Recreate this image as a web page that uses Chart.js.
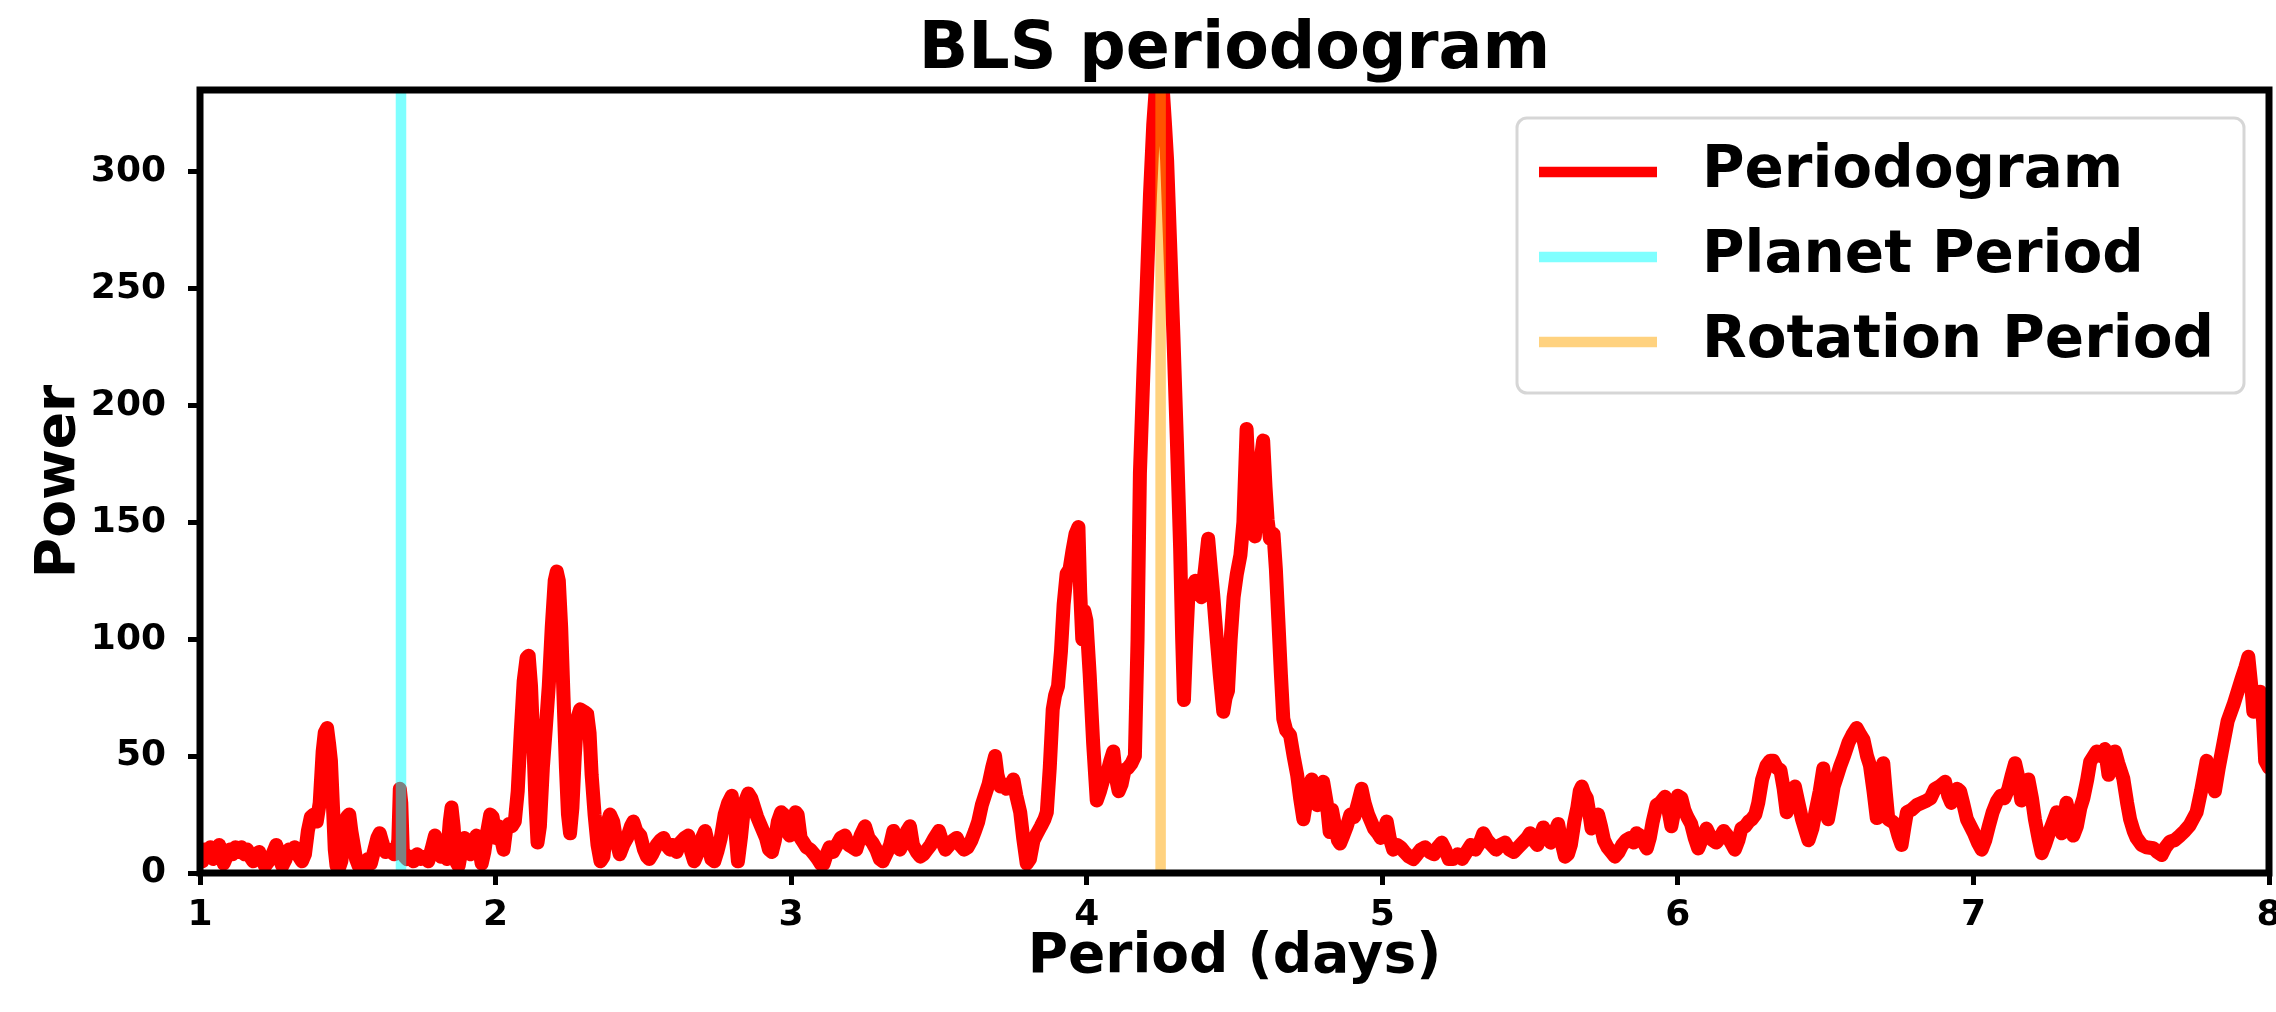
<!DOCTYPE html>
<html>
<head>
<meta charset="utf-8">
<title>BLS periodogram</title>
<script src="https://cdn.jsdelivr.net/npm/chart.js@4.4.1/dist/chart.umd.min.js"></script>
<style>
  html, body { margin: 0; padding: 0; background: #ffffff; }
  #wrap { width: 2276px; height: 1012px; }
</style>
</head>
<body>
<div id="wrap"><canvas id="bls" width="2276" height="1012"></canvas></div>
<script>
// Trial periods (days) and BLS power at each period
const periodDays = [
  1.000, 1.008, 1.015, 1.025, 1.035, 1.045, 1.055, 1.065, 1.072, 1.080, 1.090, 1.100, 1.110, 1.120, 1.130, 1.140, 1.150, 1.160,
  1.170, 1.180, 1.190, 1.200, 1.210, 1.220, 1.232, 1.245, 1.258, 1.268, 1.278, 1.290, 1.300, 1.310, 1.320, 1.330, 1.345, 1.355,
  1.365, 1.375, 1.385, 1.395, 1.405, 1.415, 1.422, 1.430, 1.437, 1.443, 1.450, 1.456, 1.462, 1.470, 1.478, 1.488, 1.497, 1.505,
  1.512, 1.520, 1.528, 1.537, 1.547, 1.558, 1.568, 1.578, 1.590, 1.600, 1.608, 1.617, 1.627, 1.637, 1.647, 1.657, 1.665, 1.671,
  1.676, 1.681, 1.686, 1.692,
  1.700, 1.712, 1.722, 1.735, 1.748, 1.760, 1.772, 1.785, 1.795, 1.805, 1.815, 1.825, 1.835, 1.845, 1.851, 1.858, 1.866, 1.875,
  1.885, 1.895, 1.905, 1.915, 1.925, 1.935, 1.945, 1.953, 1.962, 1.972, 1.982, 1.990, 2.000, 2.010, 2.020, 2.027, 2.035, 2.045,
  2.055, 2.065,
  2.075, 2.085, 2.095, 2.105, 2.112, 2.120, 2.128, 2.135, 2.142, 2.150, 2.160, 2.170, 2.180, 2.190, 2.200, 2.207, 2.214, 2.222,
  2.230, 2.238, 2.245, 2.252, 2.260, 2.268, 2.276, 2.286, 2.300, 2.310, 2.318, 2.325, 2.335, 2.345, 2.355,
  2.365, 2.375, 2.387, 2.398, 2.408, 2.420, 2.432, 2.445, 2.458, 2.466, 2.476, 2.490, 2.502, 2.512, 2.520, 2.530, 2.545, 2.558,
  2.568, 2.578, 2.590, 2.600, 2.612, 2.625, 2.640, 2.652, 2.662, 2.672, 2.682, 2.695, 2.709, 2.720, 2.730, 2.740, 2.750, 2.762,
  2.775, 2.787, 2.799, 2.810, 2.820, 2.830, 2.842, 2.855, 2.865, 2.875, 2.885, 2.895, 2.905, 2.915, 2.925, 2.935, 2.945, 2.955,
  2.966, 2.975, 2.985, 2.995, 3.005, 3.015, 3.022, 3.032, 3.042, 3.052, 3.065, 3.078, 3.090, 3.100, 3.110, 3.120, 3.130, 3.142,
  3.155, 3.168, 3.182, 3.195, 3.208, 3.220, 3.235, 3.250, 3.262, 3.275, 3.288, 3.300, 3.310, 3.325, 3.335, 3.346, 3.358,
  3.368, 3.380, 3.392, 3.402, 3.412, 3.425, 3.437, 3.448, 3.460, 3.472, 3.485, 3.500, 3.512, 3.522, 3.535, 3.548, 3.560, 3.572,
  3.585, 3.597, 3.610, 3.622, 3.633, 3.645, 3.655, 3.668, 3.680, 3.690, 3.698, 3.708, 3.718, 3.728, 3.740, 3.752, 3.762, 3.775,
  3.785, 3.797, 3.808, 3.820, 3.832, 3.845, 3.857, 3.865, 3.875, 3.885, 3.893, 3.903, 3.913, 3.922, 3.932, 3.942, 3.952, 3.962,
  3.972, 3.978, 3.985, 3.992, 3.999, 4.010, 4.022, 4.034, 4.045, 4.056, 4.068, 4.080, 4.090, 4.100, 4.108, 4.118, 4.128, 4.140,
  4.152, 4.163, 4.172, 4.180, 4.192, 4.203, 4.214, 4.225, 4.235, 4.245, 4.255, 4.265, 4.272, 4.282, 4.293, 4.305, 4.316, 4.323,
  4.329, 4.337, 4.344, 4.355, 4.367, 4.378, 4.388, 4.400, 4.411, 4.420, 4.428, 4.440, 4.450, 4.462, 4.470, 4.478, 4.487, 4.497,
  4.508, 4.520, 4.530, 4.541, 4.548, 4.555, 4.562, 4.569, 4.578, 4.587, 4.597, 4.605, 4.612, 4.620, 4.632, 4.640, 4.648, 4.657,
  4.665, 4.675, 4.688, 4.700, 4.712, 4.722, 4.733, 4.742, 4.752, 4.761, 4.770, 4.780, 4.790, 4.800, 4.812, 4.822, 4.830, 4.840,
  4.850, 4.857, 4.868, 4.880, 4.892, 4.905, 4.918, 4.930, 4.940, 4.952, 4.962, 4.972, 4.985, 4.995,
  5.005, 5.015, 5.025, 5.037, 5.050, 5.062, 5.075, 5.090, 5.105, 5.118, 5.130, 5.145, 5.160, 5.175, 5.188, 5.201, 5.213, 5.225,
  5.240, 5.255, 5.270, 5.285, 5.300, 5.315, 5.330, 5.342, 5.355, 5.370, 5.385, 5.400, 5.415, 5.430, 5.445, 5.460, 5.475, 5.490,
  5.500, 5.512, 5.525, 5.535, 5.545, 5.557, 5.570, 5.582, 5.595, 5.605, 5.618, 5.628, 5.638, 5.650, 5.660, 5.668, 5.675, 5.683,
  5.692, 5.700, 5.708, 5.718, 5.730, 5.740, 5.750, 5.762, 5.775, 5.787, 5.800, 5.812, 5.825, 5.838, 5.850, 5.860, 5.872, 5.884,
  5.895, 5.905, 5.915, 5.928, 5.940, 5.957, 5.968, 5.978, 5.990,
  6.000, 6.012, 6.022, 6.032, 6.045, 6.057, 6.069, 6.080, 6.097, 6.108, 6.118, 6.130, 6.142, 6.155, 6.167, 6.180, 6.193, 6.205,
  6.215, 6.228, 6.240, 6.250, 6.262, 6.272, 6.285, 6.300, 6.312, 6.323, 6.335, 6.347, 6.358, 6.368, 6.380, 6.396, 6.408, 6.420,
  6.432, 6.442, 6.455, 6.467, 6.480, 6.492, 6.500, 6.508, 6.518, 6.527, 6.540, 6.550, 6.562, 6.578, 6.590, 6.605, 6.618, 6.628,
  6.640, 6.650, 6.662, 6.673, 6.683, 6.695, 6.703, 6.712, 6.725, 6.735, 6.746, 6.757, 6.767, 6.775, 6.790, 6.808, 6.825, 6.842,
  6.855, 6.870, 6.885, 6.904, 6.915, 6.925, 6.935, 6.945, 6.955, 6.965, 6.978, 6.990,
  7.002, 7.015, 7.028, 7.040, 7.052, 7.065, 7.079, 7.092, 7.105, 7.118, 7.130, 7.141, 7.150, 7.162, 7.174, 7.186, 7.198, 7.208,
  7.220, 7.231, 7.242, 7.257, 7.270, 7.282, 7.290, 7.299, 7.315, 7.325, 7.338, 7.350, 7.362, 7.372, 7.385, 7.395, 7.417, 7.430,
  7.445, 7.457, 7.470, 7.479, 7.490, 7.507, 7.520, 7.530, 7.542, 7.552, 7.569, 7.585, 7.609, 7.622, 7.637, 7.650, 7.665, 7.680,
  7.699, 7.715, 7.732, 7.755, 7.770, 7.789, 7.800, 7.817, 7.830, 7.845, 7.860, 7.880, 7.907, 7.920, 7.930, 7.940, 7.947, 7.958,
  7.970, 7.980, 7.987, 8.000
];

const blsPower = [
  8, 5, 10, 7, 11, 6, 9, 12, 8, 4, 7, 10, 8, 11, 9, 11, 8, 10,
  7, 5, 8, 9, 6, 3, 5, 8, 12, 7, 3, 6, 10, 9, 11, 8, 5, 8,
  18, 24, 25, 22, 30, 52, 60, 62, 55, 48, 28, 10, 3, 2, 5, 14, 24, 25,
  18, 12, 6, 3, 4, 3, 6, 4, 10, 15, 17, 13, 9, 10, 9, 8, 10, 14,
  36, 30, 10, 7,
  6, 7, 5, 8, 6, 7, 5, 11, 16, 12, 7, 10, 6, 22, 28, 20, 5, 3,
  10, 15, 11, 8, 12, 16, 10, 4, 9, 18, 25, 24, 15, 20, 14, 10, 18, 21,
  20, 22,
  35, 60, 82, 92, 93, 80, 55, 30, 13, 20, 45, 62, 80, 105, 125, 129, 125, 105,
  75, 45, 25, 17, 28, 50, 66, 70, 69, 68, 60, 42, 25, 12, 5,
  7, 20, 25, 22, 14, 8, 12, 15, 20, 22, 18, 16, 10, 7, 6, 8, 12, 14,
  15, 12, 10, 12, 9, 13, 15, 16, 9, 5, 8, 14, 18, 12, 6, 5, 9, 15,
  25, 30, 33, 20, 5, 15, 30, 34, 32, 28, 24, 21, 18, 15, 10, 9, 14, 22,
  26, 25, 18, 16, 20, 26, 25, 15, 13, 11, 10, 8, 6, 4, 4, 8, 11, 9,
  12, 15, 16, 12, 11, 10, 16, 20, 15, 13, 10, 6, 5, 9, 12, 18, 14,
  10, 13, 18, 20, 12, 9, 7, 8, 10, 12, 15, 18, 13, 10, 12, 14, 15, 12,
  10, 11, 14, 18, 22, 29, 33, 38, 45, 50, 42, 37, 38, 36, 37, 40, 33, 26,
  15, 4, 6, 14, 17, 20, 23, 26, 45, 70, 76, 80, 95, 115, 128, 130, 138, 145,
  148, 120, 100, 112, 108, 85, 55, 31, 35, 40, 42, 48, 52, 40, 35, 38, 44, 45,
  47, 50, 100, 171, 215, 251, 290, 320, 338, 342, 340, 320, 305, 270, 231, 185, 139, 100,
  74, 100, 119, 122, 125, 123, 118, 130, 143, 130, 119, 100, 85, 69, 75, 78, 100, 118,
  128, 136, 150, 190, 170, 160, 150, 144, 165, 175, 185, 165, 151, 143, 145, 130, 109, 85,
  66, 61, 59, 50, 42, 32, 23, 30, 36, 40, 35, 29, 33, 39, 30, 17.5, 27, 20,
  14, 12.6, 16, 20, 25, 24, 30, 36, 30, 25, 22, 19, 17, 15,
  18, 22, 15, 10, 12, 11, 9, 7, 6, 8, 10, 11, 9, 8, 11, 13, 10, 6,
  6, 8, 6, 9, 12, 10, 13, 17, 14, 12, 10, 12, 13, 10, 9, 11, 13, 15,
  17, 14, 12, 16, 19.5, 16, 13, 17, 21, 14, 7, 8, 12, 22, 28, 35, 37, 34,
  32, 26, 19, 21, 25, 20, 14, 11, 9, 7, 9, 12, 14, 15, 13, 17, 16, 13,
  10.5, 15, 22, 29, 30, 32.6, 27, 20, 28,
  33, 32, 27, 24, 21, 15, 10.5, 14, 19, 16, 14, 13, 15, 18, 16, 13, 10, 14,
  19, 20, 22, 23, 25, 30, 40, 46, 48, 48, 45, 44, 36, 26, 30, 37, 30, 23,
  18, 14, 19, 27, 35, 44.7, 35, 23, 30, 37, 42, 46, 50, 56, 59, 62, 59, 57,
  50, 46, 35, 23.5, 30, 47, 35, 23, 22, 21, 16, 12, 20, 26, 27, 29, 30, 31,
  32, 36, 37, 39, 33, 30, 33, 36, 35, 30, 23, 20,
  17, 13, 10, 14, 20, 26, 30.5, 33, 32, 36, 42, 47, 42, 31, 35, 40, 32, 23,
  15, 8.5, 12, 17.6, 22, 26, 21, 17, 30, 24, 16, 20, 28, 32, 40, 47.6, 52, 50,
  53, 42, 48, 52, 47, 40.5, 30, 23, 18, 15, 12, 11, 10.6, 9, 7.7, 11, 13.4, 14,
  16, 18, 20.5, 26, 35, 48, 42, 35, 45, 55, 65, 72, 83, 88, 92.5, 80, 69, 72,
  77.5, 65, 48, 45
];

// Reference periods marked with vertical lines
const planetPeriod = 1.68;
const rotationPeriod = 4.25;

// Axis ticks and limits
const xTickValues = [1, 2, 3, 4, 5, 6, 7, 8];
const yTickValues = [0, 50, 100, 150, 200, 250, 300];
const xLimits = [1, 8];
const yLimits = [0, 335];

// Legend entries, top to bottom
const legendLabels = ['Periodogram', 'Planet Period', 'Rotation Period'];

const FONT_FAMILY = '"DejaVu Sans", "Liberation Sans", sans-serif';
Chart.defaults.font.family = FONT_FAMILY;
Chart.defaults.color = '#000000';

// Center the title over the plotting area rather than the whole canvas
const plotCenteredTitle = {
  id: 'plotCenteredTitle',
  afterLayout(chart) {
    const t = chart.titleBlock;
    if (t) {
      t.left = chart.chartArea.left;
      t.right = chart.chartArea.right;
      t.width = t.right - t.left;
    }
  }
};

// Black frame around the plotting area, drawn above the data
const axesFrame = {
  id: 'axesFrame',
  afterDatasetsDraw(chart) {
    const { ctx, chartArea: a } = chart;
    ctx.save();
    ctx.strokeStyle = '#000000';
    ctx.lineWidth = 7;
    ctx.lineJoin = 'miter';
    ctx.strokeRect(a.left, a.top, a.right - a.left, a.bottom - a.top);
    ctx.restore();
  }
};

// Framed legend placed in the upper right corner of the plotting area
const boxLegend = {
  id: 'boxLegend',
  afterDraw(chart) {
    const { ctx, chartArea: a } = chart;
    const left = a.right - 752, top = a.top + 28, width = 727, height = 275;
    ctx.save();
    ctx.beginPath();
    ctx.roundRect(left, top, width, height, 10);
    ctx.fillStyle = 'rgba(255,255,255,0.8)';
    ctx.fill();
    ctx.lineWidth = 3;
    ctx.strokeStyle = 'rgba(204,204,204,0.8)';
    ctx.stroke();
    ctx.font = 'bold 58px ' + FONT_FAMILY;
    ctx.textAlign = 'left';
    ctx.textBaseline = 'middle';
    legendLabels.forEach((name, i) => {
      const ds = chart.data.datasets.find(d => d.label === name);
      const y = top + 54 + i * 85;
      ctx.beginPath();
      ctx.moveTo(left + 22, y);
      ctx.lineTo(left + 140, y);
      ctx.lineWidth = 10.5;
      ctx.lineCap = 'butt';
      ctx.strokeStyle = ds.borderColor;
      ctx.stroke();
      ctx.fillStyle = '#000000';
      ctx.fillText(name, left + 185, y);
    });
    ctx.restore();
  }
};

const periodogramPoints = periodDays.map((p, i) => ({ x: p, y: blsPower[i] }));

const tickFont = { family: FONT_FAMILY, size: 36, weight: 'bold', lineHeight: 0.9 };
const labelFont = { family: FONT_FAMILY, size: 55, weight: 'bold' };
const tickGrid = {
  display: true,
  drawOnChartArea: false,
  drawTicks: true,
  tickLength: 12,
  tickWidth: 5,
  tickColor: '#000000',
  color: '#000000'
};

new Chart(document.getElementById('bls'), {
  type: 'line',
  data: {
    datasets: [
      {
        label: 'Planet Period',
        data: [{ x: planetPeriod, y: yLimits[0] }, { x: planetPeriod, y: yLimits[1] }],
        borderColor: 'rgba(0,255,255,0.5)',
        borderWidth: 10.5,
        borderCapStyle: 'butt',
        pointRadius: 0,
        order: 0,
        clip: 0
      },
      {
        label: 'Rotation Period',
        data: [{ x: rotationPeriod, y: yLimits[0] }, { x: rotationPeriod, y: yLimits[1] }],
        borderColor: 'rgba(255,165,0,0.5)',
        borderWidth: 10.5,
        borderCapStyle: 'butt',
        pointRadius: 0,
        order: 0,
        clip: 0
      },
      {
        label: 'Periodogram',
        data: periodogramPoints,
        borderColor: '#ff0000',
        borderWidth: 14,
        borderJoinStyle: 'round',
        borderCapStyle: 'round',
        tension: 0,
        pointRadius: 0,
        order: 1,
        clip: 0
      }
    ]
  },
  options: {
    responsive: false,
    devicePixelRatio: 1,
    animation: false,
    events: [],
    layout: { padding: { left: 0, right: 7, top: 0, bottom: 0 } },
    plugins: {
      legend: { display: false },
      tooltip: { enabled: false },
      title: {
        display: true,
        text: 'BLS periodogram',
        color: '#000000',
        font: { family: FONT_FAMILY, size: 65, weight: 'bold', lineHeight: 1.2 },
        padding: { top: 12, bottom: 0 }
      }
    },
    scales: {
      x: {
        type: 'linear',
        min: xLimits[0],
        max: xLimits[1],
        afterBuildTicks: s => { s.ticks = xTickValues.map(v => ({ value: v })); },
        afterFit: s => { s.height = 139; s.paddingLeft = 0; s.paddingRight = 0; },
        ticks: { font: tickFont, color: '#000000', padding: 14, maxRotation: 0, autoSkip: false },
        grid: tickGrid,
        border: { display: false },
        title: {
          display: true,
          text: 'Period (days)',
          color: '#000000',
          font: labelFont,
          padding: { top: 0, bottom: 21 }
        }
      },
      y: {
        type: 'linear',
        min: yLimits[0],
        max: yLimits[1],
        afterBuildTicks: s => { s.ticks = yTickValues.map(v => ({ value: v })); },
        afterFit: s => { s.width = 200; s.paddingTop = 0; s.paddingBottom = 0; },
        ticks: { font: { family: FONT_FAMILY, size: 36, weight: 'bold' }, color: '#000000', padding: 22, autoSkip: false },
        grid: tickGrid,
        border: { display: false },
        title: {
          display: true,
          text: 'Power',
          color: '#000000',
          font: labelFont,
          padding: { top: 27, bottom: 0 }
        }
      }
    }
  },
  plugins: [plotCenteredTitle, axesFrame, boxLegend]
});
</script>
</body>
</html>
